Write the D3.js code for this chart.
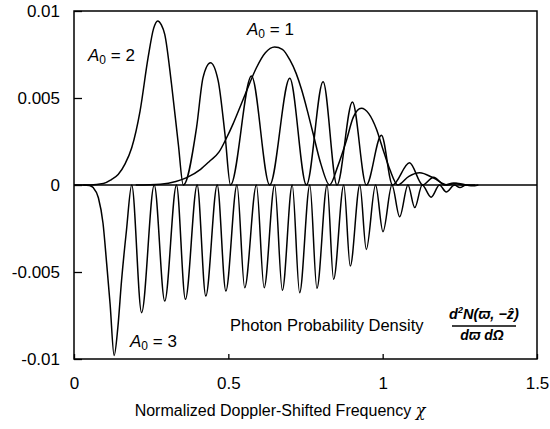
<!DOCTYPE html>
<html><head><meta charset="utf-8">
<script src="https://cdn.jsdelivr.net/npm/d3@7"></script>
<style>
html,body{margin:0;padding:0;background:#fff;}
svg text{font-family:"Liberation Sans",Arial,Helvetica,sans-serif;fill:#000;}
</style></head>
<body><svg id="c" width="550" height="429"></svg>
<script>
// ---- data ----
const xTicks = [0, 0.5, 1, 1.5];
const xTickLabels = ["0", "0.5", "1", "1.5"];
const yTicks = [0.01, 0.005, 0, -0.005, -0.01];
const yTickLabels = ["0.01", "0.005", "0", "-0.005", "-0.01"];

const seriesA1 = [[0.2,0],[0.28,0.00005],[0.33,0.0002],[0.365,0.00042],[0.41,0.0009],[0.44,0.00138],[0.47,0.0019],[0.494,0.0027],[0.515,0.0035],[0.537,0.00444],[0.559,0.0054],[0.591,0.00674],[0.62,0.0076],[0.65,0.00793],[0.675,0.0078],[0.699,0.0072],[0.72,0.0064],[0.737,0.0055],[0.757,0.0042],[0.774,0.003],[0.8,0.0012],[0.828,0],[0.855,0.0011],[0.882,0.00253],[0.905,0.0039],[0.931,0.00441],[0.955,0.0041],[0.98,0.0032],[1.0,0.0021],[1.023,0.0009],[1.049,0],[1.085,0.0005],[1.12,0.0007],[1.165,0.0004],[1.21,0],[1.24,0.0001],[1.27,0]];

const seriesA2 = [[0.03,0],[0.052,0],[0.095,0.00008],[0.12,0.0003],[0.143,0.0006],[0.165,0.0012],[0.187,0.00214],[0.214,0.00425],[0.24,0.00732],[0.258,0.0090],[0.271,0.00943],[0.283,0.0092],[0.294,0.00866],[0.316,0.00579],[0.338,0.00234],[0.354,0],[0.397,0.0033],[0.418,0.00617],[0.442,0.00703],[0.467,0.006],[0.489,0.00293],[0.507,0],[0.575,0.00626],[0.634,0],[0.699,0.00613],[0.753,0],[0.807,0.00594],[0.852,0],[0.902,0.00477],[0.947,0],[0.996,0.00286],[1.032,0],[1.087,0.00128],[1.13,0],[1.165,0.00045],[1.2,0],[1.23,0.00012],[1.26,0],[1.3,0]];

const seriesA3 = [[0,0],[0.03,0],[0.05,-0.00003],[0.062,-0.00015],[0.079,-0.00073],[0.094,-0.0022],[0.106,-0.00455],[0.117,-0.00685],[0.13,-0.0098],[0.142,-0.0082],[0.154,-0.0055],[0.17,-0.0026],[0.187,0],[0.219,-0.00734],[0.26,0],[0.294,-0.00667],[0.332,0],[0.361,-0.00657],[0.399,0],[0.427,-0.00638],[0.464,0],[0.492,-0.00609],[0.528,0],[0.553,-0.0059],[0.591,0],[0.616,-0.0059],[0.65,0],[0.675,-0.00605],[0.707,0],[0.731,-0.00619],[0.764,0],[0.787,-0.00594],[0.82,0],[0.841,-0.00542],[0.874,0],[0.895,-0.00466],[0.926,0],[0.947,-0.0037],[0.977,0],[1.001,-0.00268],[1.03,0],[1.055,-0.00183],[1.082,0],[1.104,-0.0013],[1.128,0],[1.157,-0.0007],[1.184,0],[1.206,-0.0004],[1.233,0],[1.25,-0.00015],[1.27,0],[1.29,-0.00005],[1.31,0]];

// ---- layout ----
const L = 74, R = 537, T = 11, B = 359;
const svg = d3.select("#c");
const x = d3.scaleLinear().domain([0, 1.5]).range([L, R]);
const y = d3.scaleLinear().domain([-0.01, 0.01]).range([B, T]);

// zero line
svg.append("line").attr("x1", L).attr("x2", R).attr("y1", y(0)).attr("y2", y(0))
  .attr("stroke", "#000").attr("stroke-width", 1.4);

// curves
const line = d3.line().x(d => x(d[0])).y(d => y(d[1])).curve(d3.curveMonotoneX);
[seriesA1, seriesA2, seriesA3].forEach(s => {
  svg.append("path").attr("d", line(s)).attr("fill", "none")
    .attr("stroke", "#000").attr("stroke-width", 1.5).attr("stroke-linejoin", "round");
});

// axes (ticks inside)
const yAxis = d3.axisLeft(y).tickValues(yTicks).tickSize(-8).tickPadding(14)
  .tickFormat((d, i) => yTickLabels[i]);
const gy = svg.append("g").attr("transform", `translate(${L},0)`).call(yAxis);
gy.select(".domain").remove();
gy.selectAll("line").attr("stroke", "#000").attr("stroke-width", 1.3);
gy.selectAll("text").attr("font-size", 17).attr("dy", "0.35em");

const xAxis = d3.axisBottom(x).tickValues(xTicks).tickSize(-5).tickPadding(18)
  .tickFormat((d, i) => xTickLabels[i]);
const gx = svg.append("g").attr("transform", `translate(0,${B})`).call(xAxis);
gx.select(".domain").remove();
gx.selectAll("line").attr("stroke", "#000").attr("stroke-width", 1.3);
gx.selectAll("text").attr("font-size", 17);

// frame
svg.append("rect").attr("x", L).attr("y", T).attr("width", R - L).attr("height", B - T)
  .attr("fill", "none").attr("stroke", "#000").attr("stroke-width", 1.5);

// axis title
svg.append("text").attr("x", 280).attr("y", 416).attr("text-anchor", "middle")
  .attr("font-size", 16).html('Normalized Doppler-Shifted Frequency <tspan font-family="DejaVu Serif" font-style="italic">χ</tspan>');

// curve labels
function aLabel(px, py, n) {
  const t = svg.append("text").attr("x", px).attr("y", py).attr("font-size", 17);
  t.append("tspan").attr("font-style", "italic").text("A");
  t.append("tspan").attr("font-size", 12).attr("dy", 3).text("0");
  t.append("tspan").attr("dy", -3).text(" = " + n);
}
aLabel(88, 61, 2);
aLabel(247, 35, 1);
aLabel(130, 347, 3);

// annotation
svg.append("text").attr("x", 230).attr("y", 331).attr("font-size", 16.5).text("Photon Probability Density");
const fx = 484;
const num = svg.append("text").attr("x", fx).attr("y", 319).attr("text-anchor", "middle")
  .attr("font-size", 14.5).attr("font-style", "italic").attr("font-weight", "bold");
num.append("tspan").text("d");
num.append("tspan").attr("font-size", 9).attr("dy", -6).text("2");
num.append("tspan").attr("dy", 6).text("N(ϖ, −ẑ)");
svg.append("line").attr("x1", 452).attr("x2", 516).attr("y1", 326).attr("y2", 326)
  .attr("stroke", "#000").attr("stroke-width", 1.3);
svg.append("text").attr("x", fx - 2).attr("y", 340).attr("text-anchor", "middle")
  .attr("font-size", 14).attr("font-style", "italic").attr("font-weight", "bold").text("dϖ dΩ");
</script></body></html>
